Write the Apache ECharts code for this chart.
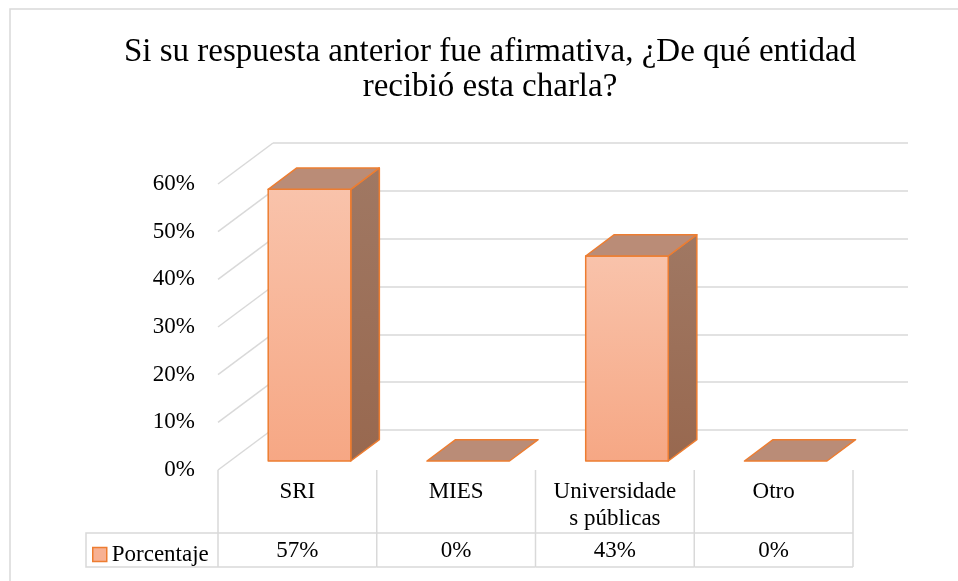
<!DOCTYPE html>
<html><head><meta charset="utf-8">
<script src="https://cdn.jsdelivr.net/npm/echarts@6/dist/echarts.min.js"></script>
<style>html,body{margin:0;padding:0;background:#fff}#c{width:958px;height:581px}</style>
</head><body><div id="c"></div>
<script>
const titleLines = ['Si su respuesta anterior fue afirmativa, ¿De qué entidad', 'recibió esta charla?'];
const categories = ['SRI', 'MIES', 'Universidades públicas', 'Otro'];
const seriesName = 'Porcentaje';
const values = [57, 0, 43, 0];
const yTicks = [0, 10, 20, 30, 40, 50, 60];

const FONT = "'Liberation Serif','Times New Roman',serif";
const TXT = '#000000';
const GRIDC = '#D9D9D9';
const DX = 55, DY = 41;          // depth vector of the 3D box
const D0 = 0.22, D1 = 0.74, BW = 0.52;
const TABLE = { rowTop: 533, bottom: 567, valueY: 551, legendLeft: 86, legendRight: 218 };

const chart = echarts.init(document.getElementById('c'), null, { renderer: 'canvas' });

function P(x, y, d) { return [x + d * DX, y - d * DY]; }

function barItem(params, api) {
  const i = api.value(0), v = api.value(1);
  const base = api.coord([i, 0]);
  const top = api.coord([i, v]);
  const band = api.size([1, 0])[0];
  const w = band * BW;
  const xl = base[0] - w / 2, xr = base[0] + w / 2;
  const yb = base[1], yt = top[1];
  const stroke = { stroke: '#ED7D31', lineWidth: 1.5, lineJoin: 'round' };
  const children = [];
  if (v > 0) {
    children.push({ type: 'polygon', shape: { points: [P(xr, yb, D0), P(xr, yb, D1), P(xr, yt, D1), P(xr, yt, D0)] },
      style: Object.assign({ fill: new echarts.graphic.LinearGradient(0, 0, 0, 1, [{ offset: 0, color: '#A07863' }, { offset: 1, color: '#98684F' }]) }, stroke) });
    children.push({ type: 'polygon', shape: { points: [P(xl, yb, D0), P(xr, yb, D0), P(xr, yt, D0), P(xl, yt, D0)] },
      style: Object.assign({ fill: new echarts.graphic.LinearGradient(0, 0, 0, 1, [{ offset: 0, color: '#F9C3AB' }, { offset: 1, color: '#F6A784' }]) }, stroke) });
  }
  children.push({ type: 'polygon', shape: { points: [P(xl, yt, D0), P(xr, yt, D0), P(xr, yt, D1), P(xl, yt, D1)] },
    style: Object.assign({ fill: '#BA8C77' }, stroke) });
  // data table cell
  const bl = base[0] - band / 2, br = base[0] + band / 2;
  const ls = { stroke: GRIDC, lineWidth: 1.5 };
  children.push({ type: 'line', shape: { x1: bl, y1: yb, x2: bl, y2: TABLE.bottom }, style: ls });
  if (params.dataIndex === categories.length - 1) {
    children.push({ type: 'line', shape: { x1: br, y1: yb, x2: br, y2: TABLE.bottom }, style: ls });
  }
  children.push({ type: 'line', shape: { x1: bl, y1: TABLE.rowTop, x2: br, y2: TABLE.rowTop }, style: ls });
  children.push({ type: 'line', shape: { x1: bl, y1: TABLE.bottom, x2: br, y2: TABLE.bottom }, style: ls });
  children.push({ type: 'text', style: { text: v + '%', x: base[0], y: TABLE.valueY, align: 'center', verticalAlign: 'middle',
    font: '23px ' + FONT, fill: TXT } });
  return { type: 'group', children: children };
}

function diagItem(params, api) {
  const c = api.coord([0, api.value(1)]);
  const band = api.size([1, 0])[0];
  const x = c[0] - band / 2;
  return { type: 'line', shape: { x1: x, y1: c[1], x2: x + DX, y2: c[1] - DY }, style: { stroke: GRIDC, lineWidth: 1.5 } };
}

const option = {
  animation: false,
  backgroundColor: '#ffffff',
  title: {
    text: titleLines.join('\n'), left: 485, top: 30, textAlign: 'center',
    textStyle: { fontFamily: FONT, fontSize: 33, fontWeight: 'normal', color: TXT, lineHeight: 35 }
  },
  legend: {
    data: [seriesName], left: 87, top: 538, icon: 'rect', itemWidth: 14, itemHeight: 14, selectedMode: false,
    itemStyle: { color: '#F7B193', borderColor: '#ED7D31', borderWidth: 1.5 },
    textStyle: { fontFamily: FONT, fontSize: 23, color: TXT }
  },
  grid: [
    { left: 218, top: 184, width: 635, height: 286 },
    { left: 273, top: 143, width: 635, height: 287 }
  ],
  xAxis: [
    { type: 'category', gridIndex: 0, data: categories, axisLine: { show: false }, axisTick: { show: false },
      axisLabel: { fontFamily: FONT, fontSize: 23, color: TXT, margin: 8, lineHeight: 27, width: 127, overflow: 'breakAll', interval: 0 } },
    { type: 'category', gridIndex: 1, data: categories, show: false }
  ],
  yAxis: [
    { type: 'value', gridIndex: 0, min: 0, max: 60, interval: 10, axisLine: { show: false }, axisTick: { show: false }, splitLine: { show: false },
      axisLabel: { formatter: '{value}%', fontFamily: FONT, fontSize: 23, color: TXT, margin: 23 } },
    { type: 'value', gridIndex: 1, min: 0, max: 60, interval: 10, axisLine: { show: false }, axisTick: { show: false }, axisLabel: { show: false },
      splitLine: { show: true, lineStyle: { color: GRIDC, width: 1.5 } } }
  ],
  graphic: [
    { type: 'rect', shape: { x: 10, y: 9, width: 1000, height: 700 }, style: { fill: 'none', stroke: GRIDC, lineWidth: 1.5 }, z: -10, silent: true },
    { type: 'polyline', shape: { points: [[TABLE.legendRight, TABLE.rowTop], [TABLE.legendLeft, TABLE.rowTop], [TABLE.legendLeft, TABLE.bottom], [TABLE.legendRight, TABLE.bottom]] },
      style: { fill: 'none', stroke: GRIDC, lineWidth: 1.5 }, silent: true }
  ],
  series: [
    { type: 'custom', name: '_walls', xAxisIndex: 0, yAxisIndex: 0, z: 1, silent: true, clip: false,
      data: yTicks.map(t => [0, t]), renderItem: diagItem },
    { type: 'custom', name: seriesName, xAxisIndex: 0, yAxisIndex: 0, z: 3, silent: true, clip: false,
      itemStyle: { color: '#F7B193', borderColor: '#ED7D31', borderWidth: 1.5 },
      data: values.map((v, i) => [i, v]), renderItem: barItem }
  ]
};
chart.setOption(option);
</script></body></html>
